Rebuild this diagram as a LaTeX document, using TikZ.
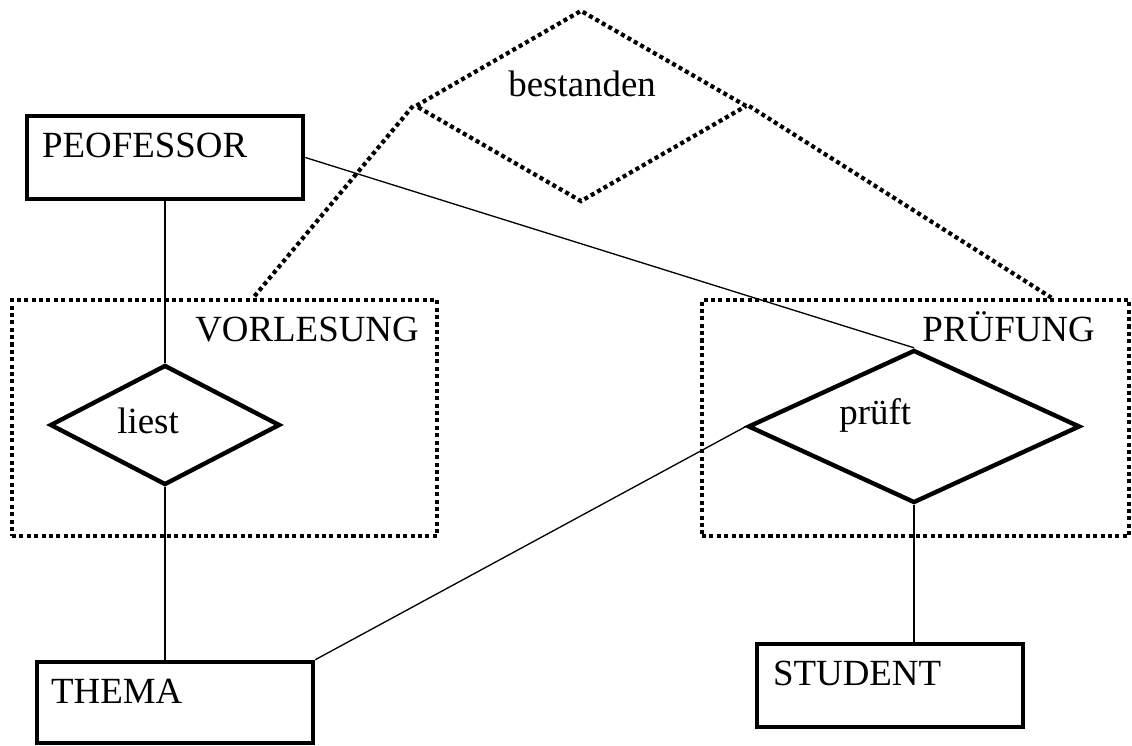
\documentclass[tikz,border=0pt]{standalone}
\usepackage{fontspec}
\setmainfont{Liberation Serif}
\usetikzlibrary{
	shapes.geometric,   %菱形
	calc,               %计算
	positioning         %定位
}
\tikzset{
	every picture/.style={
		x=0.02cm,y=0.02cm
}}
\tikzset{entity/.style={rectangle,draw,line width=2.6pt,
		minimum width=5.52cm,minimum height=1.66cm,inner sep=0pt}}
\tikzset{relation/.style={diamond,draw,line width=2.5pt,inner sep=0pt}}
\tikzset{dotline/.style={line width=2.4pt,dash pattern=on 2.3pt off 1.9pt}}
\tikzset{aggregat/.style={rectangle,draw,dotline,
		minimum width=8.5cm,minimum height=4.73cm,inner sep=0pt}}
\tikzset{link/.style={line width=0.75pt}}
\tikzset{txt/.style={inner sep=0pt,font=\fontsize{21}{25}\selectfont}}

\begin{document}
\begin{tikzpicture}
\useasboundingbox (0,0) rectangle (1132,746);
% 聚合
\node[aggregat] (vorl) at (224.5,328) {};
\node[aggregat,minimum width=8.54cm] (pruef) at (915.5,328) {};
\node[txt,anchor=base east] (vorlT) at ([shift={(-20,-43.5)}]vorl.north east) {VORLESUNG};
\node[txt,anchor=base east] (pruefT) at ([shift={(-36,-43.5)}]pruef.north east) {PRÜFUNG};
% 实体
\node[entity] (prof) at (165,588.5) {};
\node[entity,minimum height=1.62cm] (thema) at (175,43.5) {};
\node[entity,minimum width=5.32cm] (stud) at (890,60.5) {};
\node[txt,anchor=base west] (profT) at ([shift={(17,-44)}]prof.north west) {PEOFESSOR};
\node[txt,anchor=base west] (themaT) at ([shift={(16,-44)}]thema.north west) {THEMA};
\node[txt,anchor=base west] (studT) at ([shift={(18,-44)}]stud.north west) {STUDENT};
% 关系
\node[relation,minimum width=4.6cm,minimum height=2.4cm] (liest) at (165,321) {};
\node[relation,minimum width=6.64cm,minimum height=3.06cm] (prueft) at (914,319.5) {};
\node[diamond,draw,dotline,inner sep=0pt,minimum width=6.64cm,minimum height=3.84cm] (best) at (581,640) {};
\node[txt,anchor=base west] (liestT) at ([shift={(-48,-9)}]liest.center) {liest};
\node[txt,anchor=base west] (prueftT) at ([shift={(-75,1.5)}]prueft.center) {prüft};
\node[txt,anchor=base west] (bestT) at ([shift={(-73,9)}]best.center) {bestanden};
% 连线
\draw[link] (prof.south) -- (liest.north);
\draw[link] (liest.south) -- (liest.south |- thema.north);
\draw[link] (prof.east) -- (prueft.north);
\draw[link] (thema.north east) -- (prueft.west);
\draw[link] (prueft.south) -- (prueft.south |- stud.north);
\draw[dotline] (best.west) -- ($(vorl.north west)!0.567!(vorl.north east)$);
\draw[dotline] (best.east) -- ($(pruef.north west)!0.815!(pruef.north east)$);
\end{tikzpicture}
\end{document}
